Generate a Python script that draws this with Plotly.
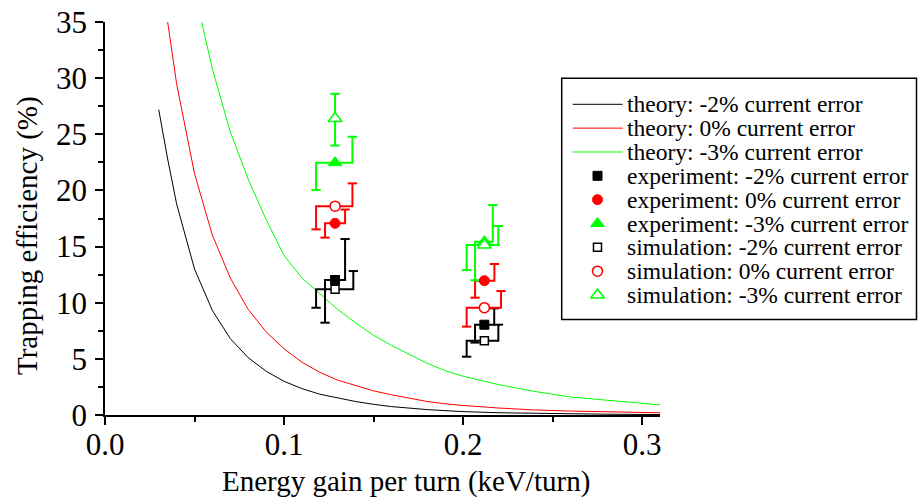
import plotly.graph_objects as go

W, H = 918, 504

# ---------------- data ----------------
theory_black_x = [0.030, 0.035, 0.040, 0.050, 0.060, 0.070, 0.080, 0.090, 0.100, 0.110, 0.120, 0.130,
                  0.140, 0.150, 0.160, 0.180, 0.200, 0.220, 0.250, 0.280, 0.310]
theory_black_y = [27.2, 22.8, 18.8, 13.0, 9.3, 6.8, 5.1, 3.9, 3.0, 2.35, 1.85, 1.5,
                  1.2, 0.95, 0.75, 0.48, 0.30, 0.20, 0.12, 0.07, 0.04]

theory_red_x = [0.035, 0.040, 0.050, 0.060, 0.070, 0.080, 0.090, 0.100, 0.110, 0.120, 0.130, 0.140,
                0.150, 0.160, 0.170, 0.180, 0.190, 0.200, 0.220, 0.240, 0.260, 0.280, 0.310]
theory_red_y = [35.0, 29.5, 21.5, 16.0, 12.2, 9.4, 7.4, 5.9, 4.7, 3.8, 3.1, 2.6,
                2.15, 1.8, 1.5, 1.2, 1.0, 0.85, 0.62, 0.45, 0.35, 0.28, 0.20]

theory_green_x = [0.054, 0.060, 0.070, 0.080, 0.090, 0.100, 0.110, 0.120, 0.130, 0.140, 0.150, 0.160,
                  0.170, 0.180, 0.190, 0.200, 0.220, 0.240, 0.260, 0.280, 0.310]
theory_green_y = [35.0, 30.8, 25.2, 21.0, 17.4, 14.2, 12.2, 10.8, 9.4, 8.2, 7.1, 6.2,
                  5.4, 4.6, 3.95, 3.45, 2.7, 2.1, 1.6, 1.3, 0.9]

point_x = [0.1285, 0.2119]

exp_m2_y = [12.02, 8.04]
exp_m2_up = [3.65, 1.46]
exp_m2_lo = [3.80, 1.59]
exp_0_y = [17.07, 11.96]
exp_0_up = [1.23, 1.49]
exp_0_lo = [1.27, 1.51]
exp_m3_y = [22.47, 15.43]
exp_m3_up = [2.31, 3.27]
exp_m3_lo = [2.44, 3.43]

sim_m2_y = [11.19, 6.62]
sim_m2_up = [1.63, 1.42]
sim_m2_lo = [1.64, 1.43]
sim_0_y = [18.60, 9.56]
sim_0_up = [2.03, 1.48]
sim_0_lo = [2.07, 1.69]
sim_m3_y = [26.40, 15.13]
sim_m3_up = [2.20, 1.70]
sim_m3_lo = [2.40, 2.23]

# horizontal shift of the upper / lower error whiskers (x units)
exp_m2_sh_up = [0.0056, 0.0055]
exp_m2_sh_lo = [0.0056, 0.0052]
exp_0_sh_up = [0.0056, 0.0056]
exp_0_sh_lo = [0.0056, 0.0052]
exp_m3_sh_up = [0.0097, 0.0047]
exp_m3_sh_lo = [0.0106, 0.0052]
sim_m2_sh_up = [0.0102, 0.0078]
sim_m2_sh_lo = [0.0106, 0.0099]
sim_0_sh_up = [0.0097, 0.0093]
sim_0_sh_lo = [0.0106, 0.0099]
sim_m3_sh_up = [0.0, 0.0078]
sim_m3_sh_lo = [0.0, 0.0099]

x_ticks = [0.0, 0.1, 0.2, 0.3]
y_ticks = [0, 5, 10, 15, 20, 25, 30, 35]

x_title = "Energy gain per turn (keV/turn)"
y_title = "Trapping efficiency (%)"

BLACK, RED, GREEN = "#000000", "#ff0000", "#00ff00"
FONT = "Liberation Serif"

# ---------------- figure ----------------
fig = go.Figure()

theories = [
    ("theory: -2% current error", theory_black_x, theory_black_y, BLACK),
    ("theory: 0% current error", theory_red_x, theory_red_y, RED),
    ("theory: -3% current error", theory_green_x, theory_green_y, GREEN),
]
for name, xs, ys, c in theories:
    fig.add_trace(go.Scatter(x=xs, y=ys, mode="lines", line=dict(color=c, width=1),
                             name=name, showlegend=False, hoverinfo="skip"))

CAP = 0.0026


def whiskers(xs, ys, up, lo, shu, shl):
    px, py = [], []
    for x, y, u, l, su, sl in zip(xs, ys, up, lo, shu, shl):
        # upper whisker
        px += [x, x + su, x + su, None, x + su - CAP, x + su + CAP, None]
        py += [y, y, y + u, None, y + u, y + u, None]
        # lower whisker
        px += [x, x - sl, x - sl, None, x - sl - CAP, x - sl + CAP, None]
        py += [y, y, y - l, None, y - l, y - l, None]
    return px, py


points = [
    ("experiment: -2% current error", exp_m2_y, exp_m2_up, exp_m2_lo, exp_m2_sh_up, exp_m2_sh_lo, BLACK, "square", True, 9),
    ("experiment: 0% current error", exp_0_y, exp_0_up, exp_0_lo, exp_0_sh_up, exp_0_sh_lo, RED, "circle", True, 10),
    ("experiment: -3% current error", exp_m3_y, exp_m3_up, exp_m3_lo, exp_m3_sh_up, exp_m3_sh_lo, GREEN, "triangle-up", True, 12),
    ("simulation: -2% current error", sim_m2_y, sim_m2_up, sim_m2_lo, sim_m2_sh_up, sim_m2_sh_lo, BLACK, "square", False, 8),
    ("simulation: 0% current error", sim_0_y, sim_0_up, sim_0_lo, sim_0_sh_up, sim_0_sh_lo, RED, "circle", False, 10),
    ("simulation: -3% current error", sim_m3_y, sim_m3_up, sim_m3_lo, sim_m3_sh_up, sim_m3_sh_lo, GREEN, "triangle-up", False, 12),
]

for name, ys, up, lo, su, sl, c, sym, filled, sz in points:
    ex, ey = whiskers(point_x, ys, up, lo, su, sl)
    fig.add_trace(go.Scatter(x=ex, y=ey, mode="lines", line=dict(color=c, width=2),
                             showlegend=False, hoverinfo="skip"))


def marker_style(c, sym, filled, sz):
    if filled:
        return dict(symbol=sym, size=sz, color=c, line=dict(color=c, width=1))
    return dict(symbol=sym, size=sz, color="white", line=dict(color=c, width=1.5))


for name, ys, up, lo, su, sl, c, sym, filled, sz in points:
    fig.add_trace(go.Scatter(x=point_x, y=ys, mode="markers", marker=marker_style(c, sym, filled, sz),
                             name=name, showlegend=False))

# ---------------- hand-drawn legend (pixel overlay axes) ----------------
LX0, LY0, LX1, LY1 = 561.7, 78.3, 916.5, 319.5
ROW0, ROW_STEP = 104.3, 23.84
fig.add_shape(type="rect", xref="x2", yref="y2", x0=LX0, y0=LY0, x1=LX1, y1=LY1,
              line=dict(color="black", width=1.5), fillcolor="white", layer="below")

entries = [(n, c, None, None, None) for n, _, _, c in theories] + \
          [(p[0], p[6], p[7], p[8], p[9]) for p in points]
for i, (name, c, sym, filled, sz) in enumerate(entries):
    yy = ROW0 + i * ROW_STEP
    if sym is None:
        fig.add_trace(go.Scatter(x=[572.7, 622.7], y=[yy, yy], xaxis="x2", yaxis="y2", mode="lines",
                                 line=dict(color=c, width=1), showlegend=False, hoverinfo="skip"))
    else:
        fig.add_trace(go.Scatter(x=[597.5], y=[yy], xaxis="x2", yaxis="y2", mode="markers",
                                 marker=marker_style(c, sym, filled, sz), showlegend=False, hoverinfo="skip"))
    fig.add_annotation(x=625.5, y=yy, xref="x2", yref="y2", text=name, showarrow=False,
                       xanchor="left", yanchor="middle", borderpad=0,
                       font=dict(family=FONT, size=23.5, color="black"))

# axis titles (placed as in the reference, slightly off-centre)
fig.add_annotation(x=406, y=481, xref="x2", yref="y2", text=x_title, showarrow=False,
                   xanchor="center", yanchor="middle", font=dict(family=FONT, size=29, color="black"))
fig.add_annotation(x=27, y=236, xref="x2", yref="y2", text=y_title, showarrow=False, textangle=-90,
                   xanchor="center", yanchor="middle", font=dict(family=FONT, size=29, color="black"))

fig.update_layout(
    width=W, height=H,
    margin=dict(l=0, r=0, t=0, b=0, autoexpand=False),
    paper_bgcolor="white", plot_bgcolor="rgba(0,0,0,0)",
    font=dict(family=FONT, color="black"),
    showlegend=False,
    xaxis=dict(domain=[105 / W, 660 / W], range=[0, 0.31], showgrid=False, zeroline=False,
               automargin=False,
               showline=True, linecolor="black", linewidth=1.5,
               ticks="outside", ticklen=8, tickwidth=1.5, tickcolor="black",
               tickvals=x_ticks, ticktext=[f"{v:.1f}" for v in x_ticks],
               tickfont=dict(family=FONT, size=31), ticklabelstandoff=-7,
               minor=dict(ticks="outside", ticklen=5, tickwidth=1.5, tickcolor="black", dtick=0.05, tick0=0),
               anchor="y"),
    yaxis=dict(domain=[1 - 415 / H, 1 - 22 / H], range=[0, 35], showgrid=False, zeroline=False,
               automargin=False,
               showline=True, linecolor="black", linewidth=1.5,
               ticks="outside", ticklen=8, tickwidth=1.5, tickcolor="black",
               tickvals=y_ticks, ticktext=[str(v) for v in y_ticks],
               tickfont=dict(family=FONT, size=31), ticklabelstandoff=2,
               minor=dict(ticks="outside", ticklen=5, tickwidth=1.5, tickcolor="black", dtick=2.5, tick0=0),
               anchor="x"),
    xaxis2=dict(domain=[0, 1], range=[0, W], visible=False, fixedrange=True, anchor="y2", automargin=False),
    yaxis2=dict(domain=[0, 1], range=[H, 0], visible=False, fixedrange=True, anchor="x2", automargin=False),
)

fig.write_html("out.html")
